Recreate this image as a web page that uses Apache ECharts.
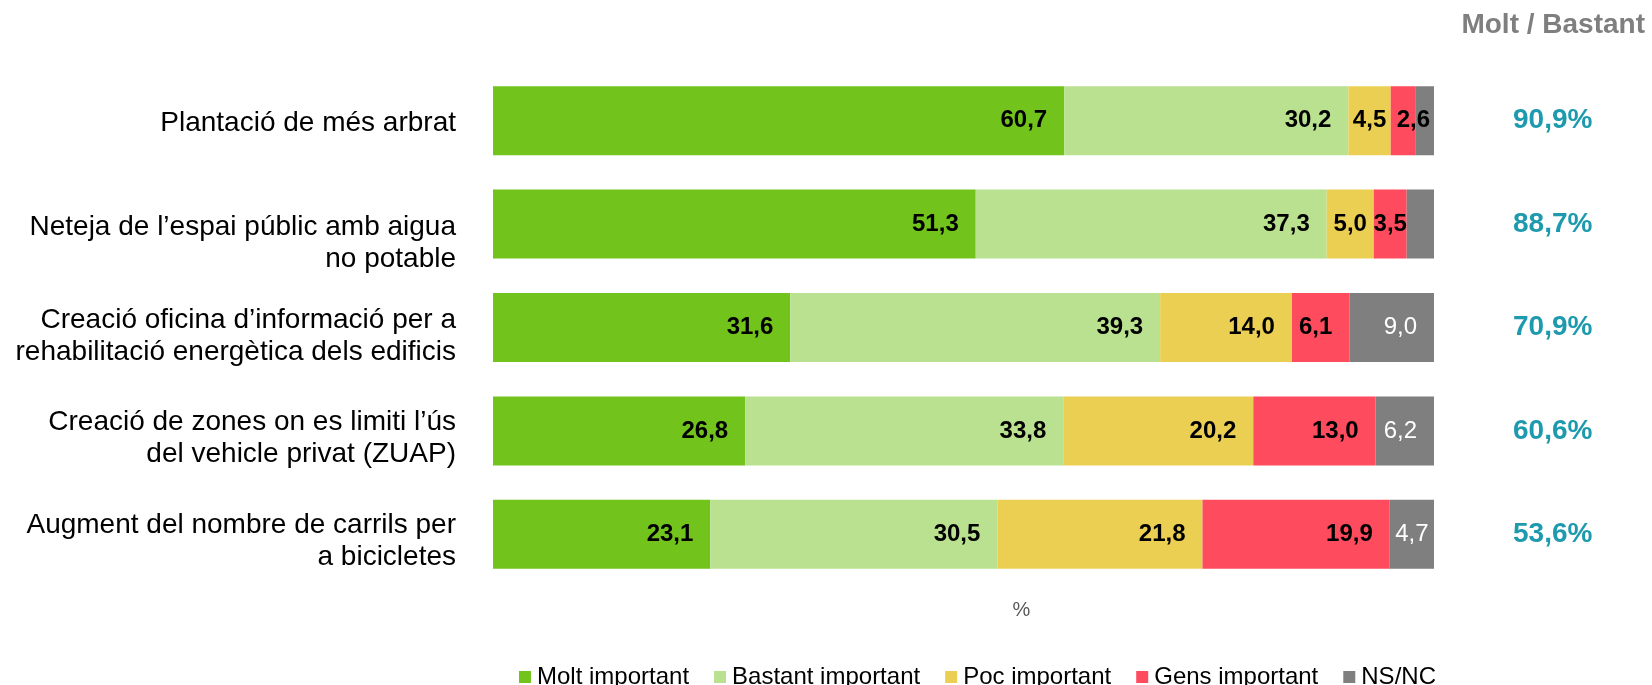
<!DOCTYPE html>
<html>
<head>
<meta charset="utf-8">
<title>Mesures</title>
<script src="https://cdn.jsdelivr.net/npm/echarts@6/dist/echarts.min.js"></script>
<style>
  html, body { margin: 0; padding: 0; background: #fff; }
  #chart { width: 1652px; height: 685px; }
</style>
</head>
<body>
<div id="chart"></div>
<script>
// categories (top to bottom)
var categories = [
  'Plantació de més arbrat',
  'Neteja de l\u2019espai públic amb aigua\nno potable',
  'Creació oficina d\u2019informació per a\nrehabilitació energètica dels edificis',
  'Creació de zones on es limiti l\u2019ús\ndel vehicle privat (ZUAP)',
  'Augment del nombre de carrils per\na bicicletes'
];
var seriesNames = ['Molt important', 'Bastant important', 'Poc important', 'Gens important', 'NS/NC'];
var moltImportant = [60.7, 51.3, 31.6, 26.8, 23.1];
var bastantImportant = [30.2, 37.3, 39.3, 33.8, 30.5];
var pocImportant = [4.5, 5.0, 14.0, 20.2, 21.8];
var gensImportant = [2.6, 3.5, 6.1, 13.0, 19.9];
var nsnc = [2.0, 2.9, 9.0, 6.2, 4.7];
// Molt + Bastant column on the right
var moltBastant = [90.9, 88.7, 70.9, 60.6, 53.6];

var colors = ['#72c31b', '#b9e18f', '#ebcf52', '#ff4b5e', '#7f7f7f'];
var font = '"Liberation Sans", Arial, sans-serif';
// downward nudge of each category label (top padding on every line, px)
var labelNudge = [6, 38, 18, 14, 13];

function fmt(v) {
  return v.toFixed(1).replace('.', ',');
}

// label placement: right aligned inside, centered for narrow segments
function labelFor(si, v) {
  var isGrey = si === 4;
  var lab = {
    show: true,
    position: 'insideRight',
    distance: 17,
    color: isGrey ? '#ffffff' : '#000000',
    fontWeight: isGrey ? 'normal' : 'bold',
    fontSize: 24,
    fontFamily: font,
    formatter: function (p) { return fmt(p.value); }
  };
  if (isGrey && v < 3) {
    lab.show = false;
  } else if (v < 3) {
    lab.position = 'insideLeft';
    lab.distance = 6;
  } else if (v < 5.5) {
    lab.position = 'inside';
  }
  return lab;
}

var allValues = [moltImportant, bastantImportant, pocImportant, gensImportant, nsnc];

var series = allValues.map(function (vals, si) {
  return {
    name: seriesNames[si],
    type: 'bar',
    stack: 'total',
    barWidth: 69,
    itemStyle: { color: colors[si] },
    emphasis: { disabled: true },
    data: vals.map(function (v) {
      return { value: v, label: labelFor(si, v) };
    })
  };
});

// rich styles for the category labels
var catText = { color: '#000', fontSize: 28, lineHeight: 32, fontFamily: font };
var catRich = {};
labelNudge.forEach(function (p, i) {
  catRich['p' + i] = Object.assign({ padding: [p, 0, 0, 0] }, catText);
});

var chart = echarts.init(document.getElementById('chart'));
var option = {
  animation: false,
  textStyle: { fontFamily: font },
  title: {
    text: 'Molt / Bastant',
    right: 2,
    top: 6,
    textStyle: { color: '#7f7f7f', fontSize: 28, fontWeight: 'bold', fontFamily: font }
  },
  legend: {
    data: seriesNames,
    left: 514,
    top: 660,
    icon: 'rect',
    itemWidth: 12,
    itemHeight: 12,
    itemGap: 25,
    textStyle: {
      color: '#000',
      fontSize: 24,
      fontFamily: font,
      padding: [0, 0, 0, 1]
    }
  },
  grid: {
    left: 493,
    right: 218,
    top: 69,
    bottom: 99
  },
  xAxis: {
    type: 'value',
    min: 0,
    max: 100,
    axisLine: { show: false },
    axisTick: { show: false },
    axisLabel: { show: false },
    splitLine: { show: false },
    name: '%',
    nameLocation: 'middle',
    nameGap: 14,
    nameTextStyle: { color: '#595959', fontSize: 20, fontFamily: font, padding: [0, 0, 0, 116] }
  },
  yAxis: [
    {
      type: 'category',
      data: categories,
      inverse: true,
      axisLine: { show: false },
      axisTick: { show: false },
      axisLabel: {
        margin: 37,
        color: '#000',
        fontSize: 28,
        lineHeight: 32,
        fontFamily: font,
        align: 'right',
        rich: catRich,
        formatter: function (val, idx) {
          return val.split('\n').map(function (line) {
            return '{p' + idx + '|' + line + '}';
          }).join('\n');
        }
      }
    },
    {
      type: 'category',
      data: categories,
      inverse: true,
      position: 'right',
      axisLine: { show: false },
      axisTick: { show: false },
      axisLabel: {
        margin: 79,
        color: '#1e9aae',
        fontSize: 28,
        fontWeight: 'bold',
        fontFamily: font,
        formatter: function (val, idx) {
          return fmt(moltBastant[idx]) + '%';
        }
      }
    }
  ],
  series: series
};
chart.setOption(option);
</script>
</body>
</html>
